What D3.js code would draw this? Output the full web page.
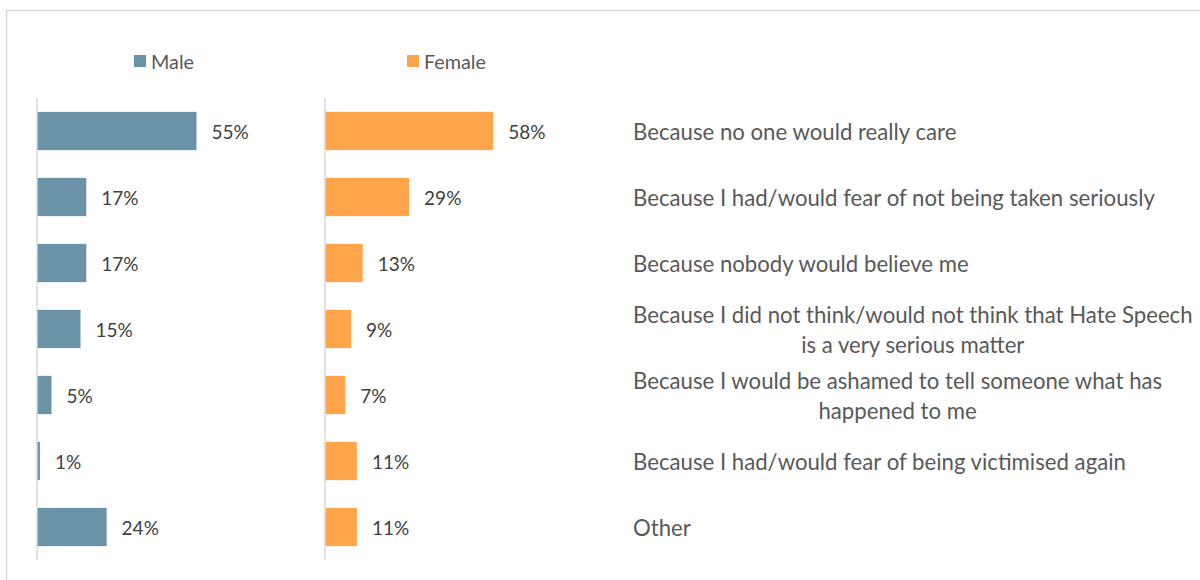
<!DOCTYPE html>
<html><head><meta charset="utf-8">
<script src="https://cdn.jsdelivr.net/npm/d3@7"></script>
<style>body{margin:0;background:#fff}svg{display:block}</style>
</head><body>
<svg id="c" width="1200" height="580"></svg>
<script>
const categories = [
  ["Because no one would really care"],
  ["Because I had/would fear of not being taken seriously"],
  ["Because nobody would believe me"],
  ["Because I did not think/would not think that Hate Speech", "is a very serious matter"],
  ["Because I would be ashamed to tell someone what has", "happened to me"],
  ["Because I had/would fear of being victimised again"],
  ["Other"]
];
const male = [55, 17, 17, 15, 5, 1, 24];
const female = [58, 29, 13, 9, 7, 11, 11];
const seriesNames = ["Male", "Female"];
const colors = ["#6A93A7", "#FFA64D"];

const svg = d3.select("#c");
const font = "Lato, 'Open Sans', sans-serif";
svg.append("rect").attr("x",6.5).attr("y",10.5).attr("width",1200).attr("height",600)
  .attr("fill","#fff").attr("stroke","#d9d9d9").attr("stroke-width",1.5);

const idx = d3.range(categories.length);
const y = d3.scaleBand().domain(idx).range([98, 560]).paddingInner(0.42).paddingOuter(0.21);
const x = d3.scaleLinear().domain([0, 100]).range([0, 290]);
const panels = [{x0:37, data:male, color:colors[0]}, {x0:325, data:female, color:colors[1]}];

panels.forEach(p => {
  const g = svg.append("g").attr("transform", `translate(${p.x0},0)`);
  g.selectAll("rect").data(idx).join("rect")
    .attr("x", 0).attr("y", i => y(i)).attr("width", i => x(p.data[i])).attr("height", y.bandwidth())
    .attr("fill", p.color);
  g.append("line").attr("x1",0).attr("x2",0).attr("y1",98).attr("y2",560)
    .attr("stroke","#d9d9d9").attr("stroke-width",1.5);
  g.selectAll("text.v").data(idx).join("text").attr("class","v")
    .attr("x", i => x(p.data[i]) + 15).attr("y", i => y(i) + y.bandwidth()/2)
    .attr("dominant-baseline","central").attr("font-family",font).attr("font-size",19)
    .attr("fill","#404040").text(i => p.data[i] + "%");
});

// category labels
idx.forEach(i => {
  const lines = categories[i];
  const cy = y(i) + y.bandwidth()/2;
  const t = svg.append("text").attr("font-family",font).attr("font-size",22.2).attr("fill","#595959")
    .attr("text-anchor","middle").attr("dominant-baseline","central");
  const spans = lines.map((l, k) => t.append("tspan").attr("y", cy + (k - (lines.length-1)/2) * 30).text(l));
  const w = d3.max(spans, s => s.node().getComputedTextLength());
  spans.forEach(s => s.attr("x", 633 + w/2));
});

// legend
const legX = [134, 407];
seriesNames.forEach((n, k) => {
  svg.append("rect").attr("x", legX[k]).attr("y", 55).attr("width", 12).attr("height", 12).attr("fill", colors[k]);
  svg.append("text").attr("x", legX[k] + 17).attr("y", 61).attr("dominant-baseline","central")
    .attr("font-family",font).attr("font-size",19.8).attr("fill","#595959").text(n);
});
</script>
</body></html>
